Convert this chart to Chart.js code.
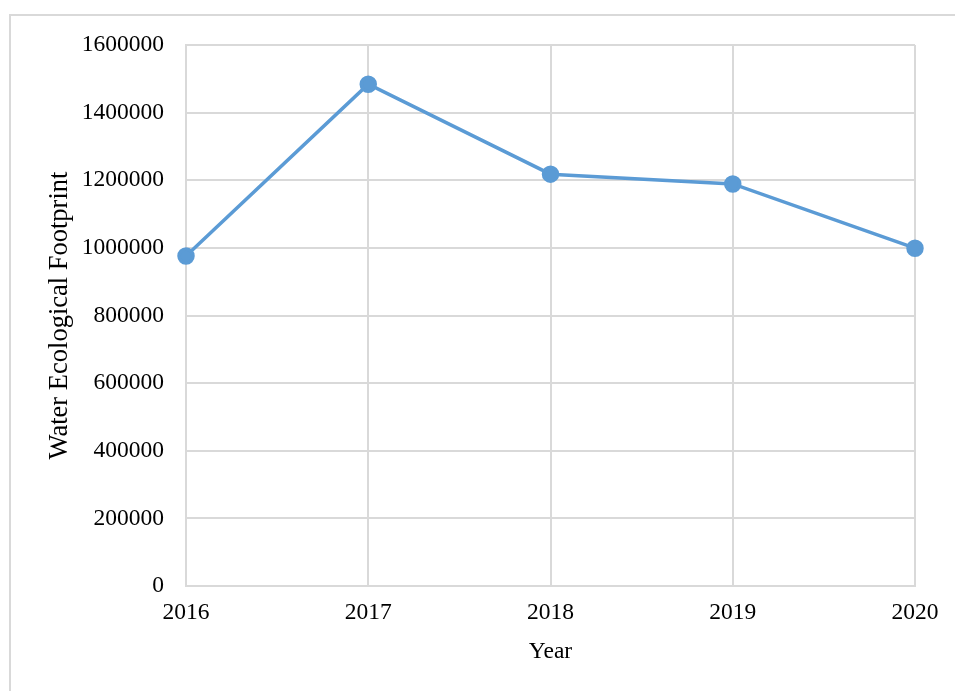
<!DOCTYPE html>
<html>
<head>
<meta charset="utf-8">
<script src="https://cdn.jsdelivr.net/npm/chart.js@4"></script>
<style>
  html, body { margin: 0; padding: 0; background: #fff; }
  #wrap { width: 955px; height: 691px; position: relative; }
</style>
</head>
<body>
<div id="wrap"><canvas id="footprintChart"></canvas></div>
<script>
// Data
const years = ['2016', '2017', '2018', '2019', '2020'];
const footprint = [976000, 1484000, 1218000, 1189000, 999000];
const yTicks = [0, 200000, 400000, 600000, 800000, 1000000, 1200000, 1400000, 1600000];

const gridColor = '#d9d9d9';
const serif = 'Liberation Serif, Times New Roman, serif';
const fontSize = 23.5;

// light frame around the picture
const framePlugin = {
    id: 'frame',
    beforeDraw(chart) {
        const ctx = chart.ctx;
        ctx.save();
        ctx.strokeStyle = gridColor;
        ctx.lineWidth = 2;
        ctx.strokeRect(10, 15, 1000, 1000);
        ctx.restore();
    }
};

const ctx = document.getElementById('footprintChart').getContext('2d');
const chart = new Chart(ctx, {
    type: 'line',
    data: {
        labels: years,
        datasets: [{
            label: 'Water Ecological Footprint',
            data: footprint,
            borderColor: '#5b9bd5',
            backgroundColor: '#5b9bd5',
            borderWidth: 3.5,
            pointRadius: 7,
            pointHoverRadius: 7,
            fill: false,
            tension: 0
        }]
    },
    options: {
        responsive: true,
        maintainAspectRatio: false,
        animation: false,
        layout: { padding: { left: 0, top: 45, right: 40, bottom: 0 } },
        plugins: {
            legend: { display: false },
            tooltip: { enabled: false }
        },
        scales: {
            x: {
                type: 'category',
                offset: false,
                grid: { color: gridColor, lineWidth: 2, drawTicks: false },
                border: { color: gridColor, width: 2 },
                ticks: { color: '#000', font: { family: serif, size: fontSize }, padding: 13, maxRotation: 0 },
                title: { display: true, text: 'Year', color: '#000', font: { family: serif, size: fontSize }, padding: { top: 0, bottom: 25 } },
                afterFit(scale) { scale.height = 105; }
            },
            y: {
                min: 0,
                max: 1600000,
                afterBuildTicks(scale) { scale.ticks = yTicks.map(v => ({ value: v })); },
                grid: { color: gridColor, lineWidth: 2, drawTicks: false },
                border: { color: gridColor, width: 2 },
                ticks: { color: '#000', font: { family: serif, size: fontSize }, padding: 22, callback: v => String(v) },
                title: { display: true, text: 'Water Ecological Footprint', color: '#000', font: { family: serif, size: 26.5 }, padding: { top: 44, bottom: 0 } },
                afterFit(scale) { scale.width = 186; }
            }
        }
    },
    plugins: [framePlugin]
});
</script>
</body>
</html>
